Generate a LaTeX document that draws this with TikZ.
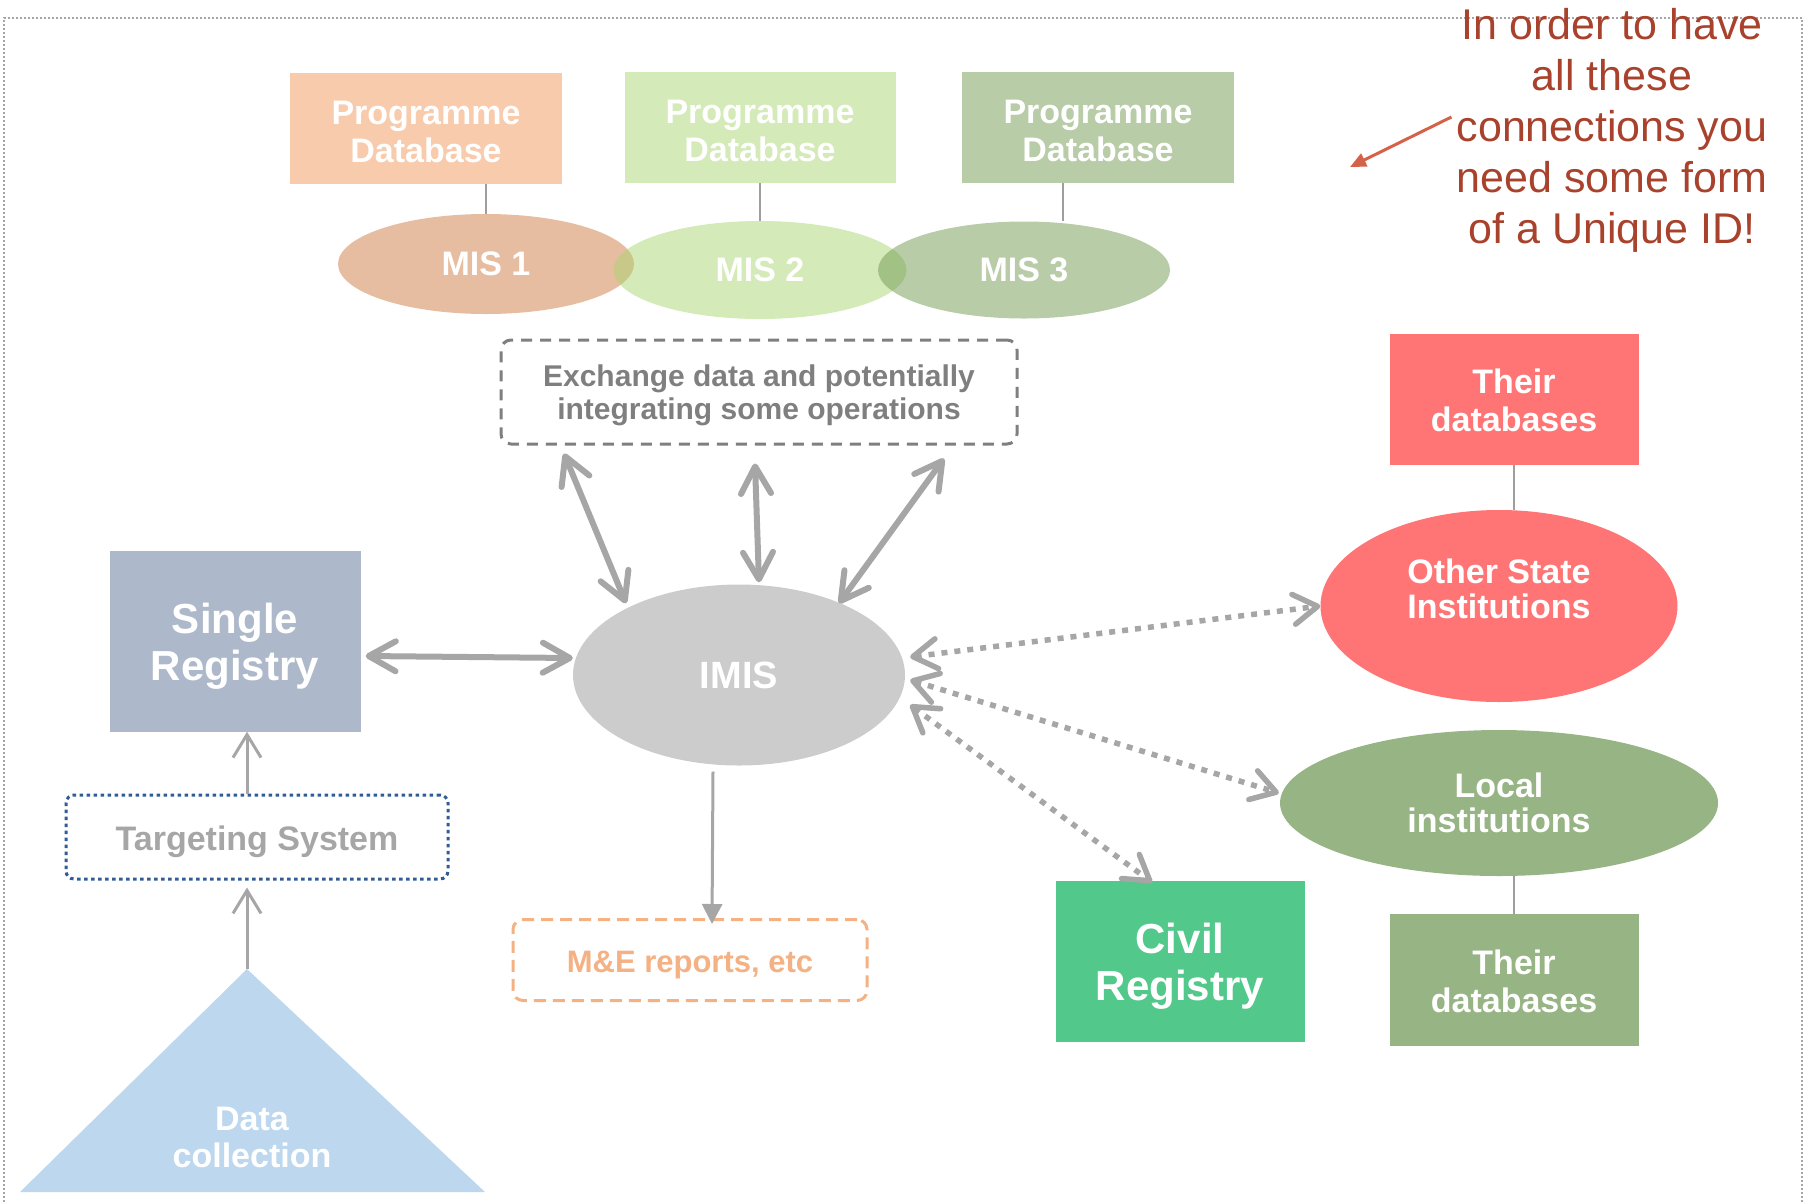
\documentclass[tikz,border=0pt]{standalone}
\usepackage{fontspec}
\setmainfont{Liberation Sans}
\usetikzlibrary{arrows.meta,shapes.geometric}
\definecolor{pdorange}{RGB}{248,203,173}
\definecolor{misorange}{RGB}{205,123,65}
\definecolor{pdgreen}{RGB}{213,234,185}
\definecolor{misgreen}{RGB}{171,213,115}
\definecolor{pdsage}{RGB}{184,204,168}
\definecolor{missage}{RGB}{113,153,81}
\definecolor{exgray}{RGB}{127,127,127}
\definecolor{arrowgray}{RGB}{166,166,166}
\definecolor{linkgray}{RGB}{158,158,158}
\definecolor{srblue}{RGB}{173,185,202}
\definecolor{imisgray}{RGB}{204,204,204}
\definecolor{tsblue}{RGB}{50,92,150}
\definecolor{dcblue}{RGB}{189,215,238}
\definecolor{meorange}{RGB}{244,177,131}
\definecolor{crgreen}{RGB}{82,200,138}
\definecolor{osired}{RGB}{255,117,117}
\definecolor{ligreen}{RGB}{151,180,133}
\definecolor{notered}{RGB}{169,66,44}
\definecolor{notearrow}{RGB}{212,97,72}
\definecolor{framegray}{RGB}{165,165,165}
\newcommand{\setfs}[2]{\fontsize{#1}{#2}\selectfont}
\newcommand{\padtop}[1]{\rule{0pt}{#1}}

\begin{document}
\begin{tikzpicture}[x=1pt,y=-1pt,
    box/.style={rectangle,inner sep=0pt,text=white,align=center},
    oval/.style={ellipse,inner sep=0pt,text=white,align=center},
    link/.style={draw=linkgray,line width=2pt},
    bigarrow/.style={arrowgray,line width=6pt,line cap=round,
        {Straight Barb[length=27pt,width=30pt,round]}-{Straight Barb[length=27pt,width=30pt,round]}},
    dotarrow/.style={arrowgray,line width=5.5pt,dash pattern=on 6pt off 7pt,
        {Straight Barb[length=24pt,width=30pt,round]}-{Straight Barb[length=24pt,width=30pt,round]}},
    thinarrow/.style={arrowgray,line width=3pt,-{Straight Barb[length=23pt,width=28pt]}}]
    \useasboundingbox (0,0) rectangle (1804,1203);
    \draw[framegray,line width=2pt,dash pattern=on 2pt off 2pt] (4,1210) -- (4,18) -- (1802,18) -- (1802,1210);

%    programme databases and their MIS
    \node (PD1) at (426,128) [box,fill=pdorange,minimum width=272pt,minimum height=111pt,font={\bfseries\setfs{34}{38}}] {\padtop{32pt}Programme\\Database};
    \node (PD2) at (760,127) [box,fill=pdgreen,minimum width=271pt,minimum height=111pt,font={\bfseries\setfs{34}{38}}] {\padtop{32pt}Programme\\Database};
    \node (PD3) at (1098,127) [box,fill=pdsage,minimum width=272pt,minimum height=111pt,font={\bfseries\setfs{34}{38}}] {\padtop{32pt}Programme\\Database};
    \node (MIS1) at (486,264) [oval,fill=misorange,fill opacity=.5,text opacity=1,minimum width=296pt,minimum height=100pt,font={\bfseries\setfs{34}{38}}] {MIS 1};
    \node (MIS2) at (760,270) [oval,fill=misgreen,fill opacity=.5,text opacity=1,minimum width=293pt,minimum height=98pt,font={\bfseries\setfs{34}{38}}] {MIS 2};
    \node (MIS3) at (1024,270) [oval,fill=missage,fill opacity=.5,text opacity=1,minimum width=292pt,minimum height=97pt,font={\bfseries\setfs{34}{38}}] {MIS 3};
    \draw[link] (MIS1.north |- PD1.south) -- (MIS1.north);
    \draw[link] (MIS2.north |- PD2.south) -- (MIS2.north);
    \draw[link] ([xshift=-35pt]PD3.south) -- ([xshift=-35pt]PD3.south |- MIS3.north);

    \node (EX) at (759,392) [rectangle,draw=exgray,line width=3pt,dash pattern=on 11pt off 8pt,rounded corners=10pt,minimum width=516pt,minimum height=104pt,inner sep=0pt,text=exgray,align=center,font={\bfseries\setfs{30}{33}}] {\padtop{29pt}Exchange data and potentially\\integrating some operations};

%    the centre
    \node (IMIS) at (739,675) [oval,fill=imisgray,minimum width=332pt,minimum height=181pt,font={\bfseries\setfs{38}{42}}] {IMIS};
    \draw[bigarrow] ([shift={(-195pt,-8pt)}]EX.south) -- ([shift={(-113pt,-19pt)}]IMIS.north);
    \draw[bigarrow] ([shift={(-4pt,-18pt)}]EX.south) -- ([shift={(20pt,2pt)}]IMIS.north);
    \draw[bigarrow] ([shift={(185pt,-13pt)}]EX.south) -- ([shift={(100pt,-19pt)}]IMIS.north);

%    left column
    \node (SR) at (235,641) [box,fill=srblue,minimum width=251pt,minimum height=181pt,font={\bfseries\setfs{42}{47}}] {\padtop{41pt}Single\\Registry};
    \node (TS) at (257,837) [rectangle,draw=tsblue,line width=3pt,dash pattern=on 3.5pt off 3.5pt,rounded corners=8pt,minimum width=382pt,minimum height=84pt,inner sep=0pt,text=arrowgray,font={\bfseries\setfs{34}{38}}] {\padtop{34pt}Targeting System};
    \coordinate (DCtop) at (247,969);
    \fill[dcblue] (20,1192) -- (DCtop) -- (485,1192) -- cycle;
    \node (DC) at (252,1137) [box,font={\bfseries\setfs{34}{37}}] {Data\\collection};
    \draw[bigarrow] ([shift={(5pt,-15pt)}]SR.east) -- ([yshift=17pt]IMIS.west);
    \draw[thinarrow] (TS.north -| DCtop) -- (SR.south -| DCtop);
    \draw[thinarrow,shorten >=7pt] (DCtop) -- (TS.south -| DCtop);

    \node (ME) at (690,960) [rectangle,draw=meorange,line width=3pt,dash pattern=on 12pt off 7pt,rounded corners=10pt,minimum width=354pt,minimum height=81pt,inner sep=0pt,text=meorange,font={\bfseries\setfs{31}{34}}] {\padtop{32pt}M\&E reports, etc};
    \draw[arrowgray,line width=3pt,-{Triangle[length=20pt,width=20pt]}] ([xshift=-26pt,yshift=-6pt]IMIS.south) -- ([xshift=22pt,yshift=-6pt]ME.north);

%    right side
    \node (TD1) at (1514,399) [box,fill=osired,minimum width=249pt,minimum height=131pt,font={\bfseries\setfs{34}{38}}] {\padtop{27pt}Their\\databases};
    \node (OSI) at (1499,606) [oval,fill=osired,minimum width=357pt,minimum height=192pt,
        label={[text=white,align=center,font={\bfseries\setfs{34}{35}},yshift=17pt]center:Other State\\Institutions}] {};
    \node (LI) at (1499,803) [oval,fill=ligreen,minimum width=438pt,minimum height=146pt,font={\bfseries\setfs{34}{35}}] {Local\\institutions};
    \node (TD2) at (1514,980) [box,fill=ligreen,minimum width=249pt,minimum height=132pt,font={\bfseries\setfs{34}{38}}] {\padtop{27pt}Their\\databases};
    \node (CR) at (1180,961) [box,fill=crgreen,minimum width=249pt,minimum height=161pt,font={\bfseries\setfs{42}{47}}] {\padtop{41pt}Civil\\Registry};
    \draw[link] (TD1.south) -- (TD1.south |- OSI.north);
    \draw[link] (LI.south -| TD2.north) -- (TD2.north);
    \draw[dotarrow] ([shift={(5pt,18pt)}]IMIS.east) -- (OSI.west);
    \draw[dotarrow] ([shift={(5pt,-5pt)}]IMIS.east) -- ([shift={(-1pt,10pt)}]LI.west);
    \draw[dotarrow] ([shift={(5pt,-30pt)}]IMIS.east) -- ([shift={(-28pt,-2pt)}]CR.north);

%    the remark in the corner
    \node (Note) at (1612,130) [inner sep=0pt,align=center,text=notered,font={\setfs{43}{51}}] {In order to have\\all these\\connections you\\need some form\\of a Unique ID!};
    \coordinate (UIDtip) at (1350,167);
    \draw[notearrow,line width=3pt,-{Triangle[length=16pt,width=14pt]}] ([shift={(-5pt,13pt)}]Note.west) -- (UIDtip);
\end{tikzpicture}
\end{document}
